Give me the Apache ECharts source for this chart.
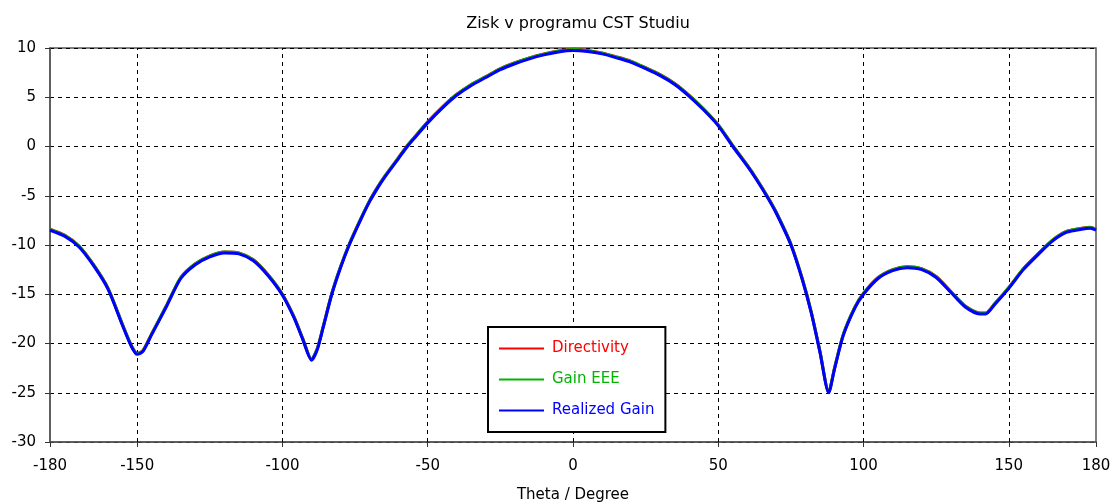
<!DOCTYPE html>
<html>
<head>
<meta charset="utf-8">
<script src="https://cdn.jsdelivr.net/npm/echarts@6/dist/echarts.min.js"></script>
<style>
  html, body { margin: 0; padding: 0; background: #fff; }
  #chart { width: 1113px; height: 504px; }
</style>
</head>
<body>
<div id="chart"></div>
<script>
const theta = [-180, -175, -170, -165, -160, -155, -152, -150, -148, -145, -140, -135, -130, -125, -120, -115, -110, -105, -100, -96, -93, -90, -88, -86, -83, -80, -77, -73, -70, -67, -65, -60, -57, -55, -50, -45, -40, -35, -30, -25, -20, -15, -10, -5, 0, 5, 10, 15, 20, 25, 30, 35, 40, 45, 50, 55, 60, 63, 67, 70, 75, 79, 82, 85, 88, 90, 93, 97, 100, 105, 110, 115, 120, 125, 130, 135, 140, 142, 145, 150, 155, 160, 165, 170, 175, 178, 180];

const directivity = [-8.4, -9.0, -10.1, -12.0, -14.4, -18.1, -20.2, -21.0, -20.7, -19.0, -16.2, -13.3, -11.9, -11.1, -10.7, -10.8, -11.5, -13.0, -15.0, -17.3, -19.5, -21.6, -20.5, -18.3, -14.9, -12.2, -9.9, -7.3, -5.5, -4.0, -3.1, -1.1, 0.1, 0.8, 2.5, 4.0, 5.3, 6.3, 7.1, 7.9, 8.5, 9.0, 9.4, 9.7, 9.88, 9.75, 9.5, 9.1, 8.65, 8.0, 7.3, 6.4, 5.2, 3.8, 2.2, 0.1, -1.9, -3.2, -5.1, -6.7, -9.9, -13.5, -16.8, -20.8, -24.9, -22.5, -19.1, -16.3, -14.9, -13.3, -12.5, -12.2, -12.4, -13.2, -14.7, -16.2, -16.9, -16.9, -16.0, -14.3, -12.4, -10.9, -9.5, -8.6, -8.3, -8.2, -8.4];

const gainEEE = [-8.42, -9.02, -10.12, -12.02, -14.42, -18.12, -20.22, -21.02, -20.72, -19.02, -16.22, -13.32, -11.92, -11.12, -10.72, -10.82, -11.52, -13.02, -15.02, -17.32, -19.52, -21.62, -20.52, -18.32, -14.92, -12.22, -9.92, -7.32, -5.52, -4.02, -3.12, -1.12, 0.08, 0.78, 2.48, 3.98, 5.28, 6.28, 7.08, 7.88, 8.48, 8.98, 9.38, 9.68, 9.86, 9.73, 9.48, 9.08, 8.63, 7.98, 7.28, 6.38, 5.18, 3.78, 2.18, 0.08, -1.92, -3.22, -5.12, -6.72, -9.92, -13.52, -16.82, -20.82, -24.92, -22.52, -19.12, -16.32, -14.92, -13.32, -12.52, -12.22, -12.42, -13.22, -14.72, -16.22, -16.92, -16.92, -16.02, -14.32, -12.42, -10.92, -9.52, -8.62, -8.32, -8.22, -8.42];

const realizedGain = [-8.5, -9.1, -10.2, -12.1, -14.5, -18.2, -20.3, -21.1, -20.8, -19.1, -16.3, -13.4, -12.0, -11.2, -10.8, -10.9, -11.6, -13.1, -15.1, -17.4, -19.6, -21.7, -20.6, -18.4, -15.0, -12.3, -10.0, -7.4, -5.6, -4.1, -3.2, -1.2, 0.0, 0.7, 2.4, 3.9, 5.2, 6.2, 7.0, 7.8, 8.4, 8.9, 9.3, 9.6, 9.75, 9.65, 9.4, 9.0, 8.55, 7.9, 7.2, 6.3, 5.1, 3.7, 2.1, 0.0, -2.0, -3.3, -5.2, -6.8, -10.0, -13.6, -16.9, -20.9, -25.0, -22.6, -19.2, -16.4, -15.0, -13.4, -12.6, -12.3, -12.5, -13.3, -14.8, -16.3, -17.0, -17.0, -16.1, -14.4, -12.5, -11.0, -9.6, -8.7, -8.4, -8.3, -8.5];

const xTicks = [-180, -150, -100, -50, 0, 50, 100, 150, 180];
const xGrid = [-150, -100, -50, 0, 50, 100, 150];

const seriesNames = ["Directivity", "Gain EEE", "Realized Gain"];
const seriesColors = ["#ff0000", "#00b400", "#0000ff"];
const seriesData = [directivity, gainEEE, realizedGain];

const font = "'DejaVu Sans', Verdana, sans-serif";
const chart = echarts.init(document.getElementById("chart"));

const series = seriesData.map((vals, i) => ({
  name: seriesNames[i],
  type: "line",
  data: theta.map((t, k) => [t, vals[k]]),
  smooth: 0.25,
  symbol: "none",
  lineStyle: { color: seriesColors[i], width: 3 },
  itemStyle: { color: seriesColors[i] },
  z: 3 + i,
}));

// vertical dashed grid lines at the labelled angles
series[0].markLine = {
  silent: true,
  symbol: "none",
  label: { show: false },
  lineStyle: { color: "#000", type: [4, 4], width: 1 },
  data: xGrid.map((x) => ({ xAxis: x })),
  z: 1,
};

chart.setOption({
  animation: false,
  title: {
    text: "Zisk v programu CST Studiu",
    left: 573,
    textAlign: "center",
    top: 11,
    textStyle: { fontFamily: font, fontSize: 16, fontWeight: "normal", color: "#000" },
  },
  grid: {
    left: 50,
    right: 17,
    top: 48,
    bottom: 62,
    containLabel: false,
    outerBoundsMode: "none",
    show: true,
    borderColor: "#555",
    borderWidth: 1.5,
  },
  legend: {
    orient: "vertical",
    left: 488,
    top: 327,
    padding: [14, 11, 14, 10],
    itemWidth: 45,
    itemHeight: 14,
    itemGap: 16,
    backgroundColor: "#fff",
    borderColor: "#000",
    borderWidth: 2,
    borderRadius: 0,
    itemStyle: { opacity: 0 },
    textStyle: { fontFamily: font, fontSize: 15, padding: [0, 0, 0, 3] },
    data: seriesNames.map((n, i) => ({
      name: n,
      textStyle: { color: seriesColors[i] },
    })),
  },
  xAxis: {
    type: "value",
    min: -180,
    max: 180,
    name: "Theta / Degree",
    nameLocation: "middle",
    nameGap: 46,
    nameTextStyle: { fontFamily: font, fontSize: 15, color: "#000" },
    axisLine: { onZero: false, lineStyle: { color: "#555", width: 1.5 } },
    axisTick: { show: true, length: 5, customValues: xTicks, lineStyle: { color: "#333" } },
    axisLabel: {
      customValues: xTicks,
      margin: 17,
      fontFamily: font,
      fontSize: 15,
      color: "#000",
    },
    splitLine: { show: false },
  },
  yAxis: {
    type: "value",
    min: -30,
    max: 10,
    interval: 5,
    axisLine: { show: true, onZero: false, lineStyle: { color: "#555", width: 1.5 } },
    axisTick: { show: true, length: 5, lineStyle: { color: "#333" } },
    axisLabel: { margin: 14, fontFamily: font, fontSize: 15, color: "#000" },
    splitLine: { show: true, lineStyle: { color: "#000", type: [4, 4], width: 1 } },
  },
  series: series,
});
</script>
</body>
</html>
